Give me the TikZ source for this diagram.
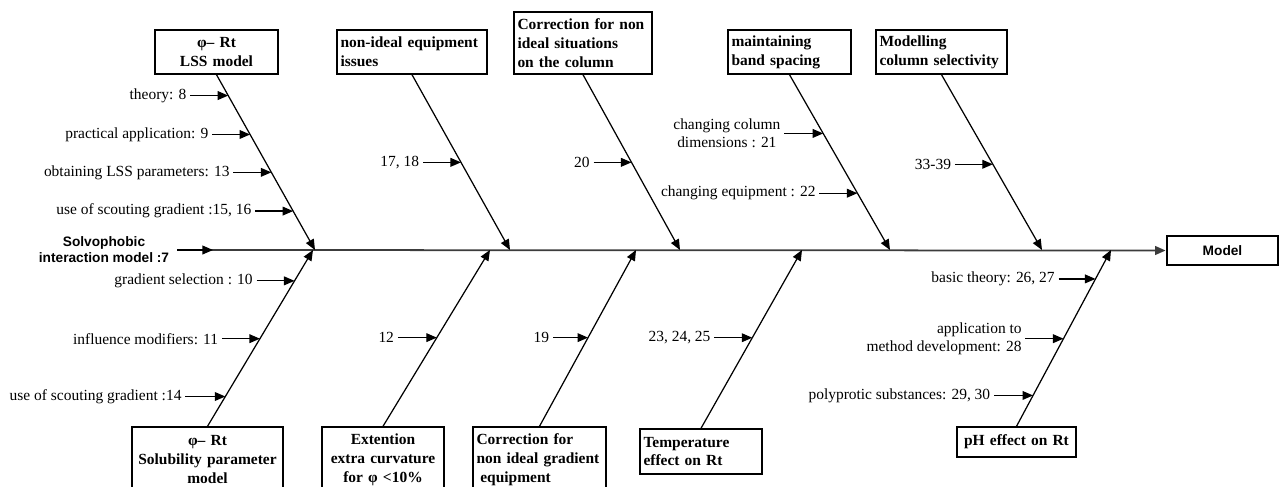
\documentclass[tikz,border=0pt]{standalone}
\usepackage{fontspec}
\setmainfont{Liberation Serif}
\setsansfont{Liberation Sans}
\usetikzlibrary{arrows.meta,positioning}
\definecolor{spinegray}{RGB}{60,60,60}
\newcommand{\causefont}{\fontsize{8.8}{10.8}\selectfont\bfseries}
\newcommand{\refsfont}{\fontsize{8.8}{10.4}\selectfont}
\newcommand{\modelfont}{\fontsize{7.8}{9.1}\selectfont\sffamily\bfseries}

\begin{document}
\begin{tikzpicture}[x=0.02cm,y=-0.02cm,
    cause/.style={draw,line width=0.8pt,inner sep=2pt,font=\causefont},
    bone/.style={line width=0.7pt,-{Triangle[length=6pt,width=5pt]}},
    refs/.style={inner sep=2pt,font=\refsfont},
    refarrow/.style={line width=0.7pt,-{Triangle[length=6pt,width=5pt]}}]
  \clip (0,0) rectangle (1279,487);

  % spine and effect
  \node[draw,line width=0.8pt,minimum width=2.22cm,minimum height=0.58cm,
        font=\modelfont] (model) at (1222.5,250.5) {Model};
  \node[inner sep=2pt,align=center,font=\modelfont] (solvo) at (104,250)
    {Solvophobic\\interaction model :7};
  \coordinate (spinestart) at (177,250);
  \coordinate (solvotip) at (213,250);
  \draw[line width=1pt,draw=spinegray,-{Triangle[length=6pt,width=5pt]},
        shorten >=0.4pt] (spinestart) -- (model.west);
  \draw[refarrow] (spinestart) -- (solvotip);

  % upper causes
  \node[cause,align=center,text width=2.32cm,minimum width=2.46cm,minimum height=0.88cm]
    (lss) at (216.5,52) {φ– Rt\\LSS model};
  \node[cause,align=left,text width=2.86cm,minimum width=3.0cm,minimum height=0.88cm]
    (equip) at (412,52) {non-ideal equipment\\issues};
  \node[cause,align=left,text width=2.62cm,minimum width=2.76cm,minimum height=1.24cm]
    (column) at (583,43) {Correction for non\\ideal situations\\on the column};
  \node[cause,align=left,text width=2.32cm,minimum width=2.46cm,minimum height=0.88cm]
    (band) at (789.5,52) {maintaining\\band spacing};
  \node[cause,align=left,text width=2.48cm,minimum width=2.62cm,minimum height=0.88cm]
    (select) at (941.5,52) {Modelling\\column selectivity};

  % lower causes
  \node[cause,align=center,text width=2.88cm,minimum width=3.02cm,minimum height=1.3cm]
    (solub) at (207.5,459.5) {φ– Rt\\Solubility parameter\\model};
  \node[cause,align=center,text width=2.30cm,minimum width=2.44cm,minimum height=1.3cm]
    (curv) at (383,459.5) {Extention\\extra curvature\\for φ <10\%};
  \node[cause,align=left,text width=2.52cm,minimum width=2.66cm,minimum height=1.3cm]
    (gradeq) at (539.5,459.5) {Correction for\\non ideal gradient\\\hspace{0.25em}equipment};
  \node[cause,align=left,text width=2.30cm,minimum width=2.44cm,minimum height=0.9cm]
    (temp) at (701,451.5) {Temperature\\effect on Rt};
  \node[cause,align=center,text width=2.24cm,minimum width=2.38cm,minimum height=0.6cm]
    (ph) at (1016.5,442) {pH effect on Rt};

  % bones
  \draw[bone] (lss.south) -- (315,250) coordinate[pos=0.119] (t8)
    coordinate[pos=0.341] (t9) coordinate[pos=0.557] (t13) coordinate[pos=0.778] (t15);
  \draw[bone] (equip.south) -- (510,250) coordinate[pos=0.5] (t17);
  \draw[bone] (column.south) -- (680,250) coordinate[pos=0.5] (t20);
  \draw[bone] (band.south) -- (890,250) coordinate[pos=0.335] (t21)
    coordinate[pos=0.676] (t22);
  \draw[bone] (select.south) -- (1042,250) coordinate[pos=0.511] (t33);
  \draw[bone] (solub.north) -- (313,250) coordinate[pos=0.825] (t10)
    coordinate[pos=0.497] (t11) coordinate[pos=0.169] (t14);
  \draw[bone] (curv.north) -- (490,250) coordinate[pos=0.503] (t12);
  \draw[bone] (gradeq.north) -- (636,250) coordinate[pos=0.503] (t19);
  \draw[bone] (temp.north) -- (802,250) coordinate[pos=0.508] (t23);
  \draw[bone] (ph.north) -- (1111,250) coordinate[pos=0.836] (t26)
    coordinate[pos=0.497] (t28) coordinate[pos=0.175] (t29);

  % references
  \node[refs,left=0.76cm of t8] (l8) {theory: 8};
  \node[refs,left=0.76cm of t9] (l9) {practical application: 9};
  \node[refs,left=0.76cm of t13] (l13) {obtaining LSS parameters: 13};
  \node[refs,left=0.76cm of t15] (l15) {use of scouting gradient :15, 16};
  \node[refs,left=0.76cm of t17] (l17) {17, 18};
  \node[refs,left=0.76cm of t20] (l20) {20};
  \node[refs,left=0.78cm of t21,align=center] (l21) {changing column\\dimensions : 21};
  \node[refs,left=0.76cm of t22] (l22) {changing equipment : 22};
  \node[refs,left=0.76cm of t33] (l33) {33-39};
  \node[refs,left=0.76cm of t10] (l10) {gradient selection : 10};
  \node[refs,left=0.76cm of t11] (l11) {influence modifiers: 11};
  \node[refs,left=0.8cm of t14] (l14) {use of scouting gradient :14};
  \node[refs,left=0.78cm of t12] (l12) {12};
  \node[refs,left=0.7cm of t19] (l19) {19};
  \node[refs,left=0.76cm of t23] (l23) {23, 24, 25};
  \node[refs,left=0.74cm of t26] (l26) {basic theory: 26, 27};
  \node[refs,left=0.76cm of t28,align=right] (l28) {application to\\method development: 28};
  \node[refs,left=0.78cm of t29] (l29) {polyprotic substances: 29, 30};
  \foreach \r in {8,9,13,15,17,20,21,22,33,10,11,14,12,19,23,26,28,29}
    \draw[refarrow] (l\r) -- (t\r);
\end{tikzpicture}
\end{document}
